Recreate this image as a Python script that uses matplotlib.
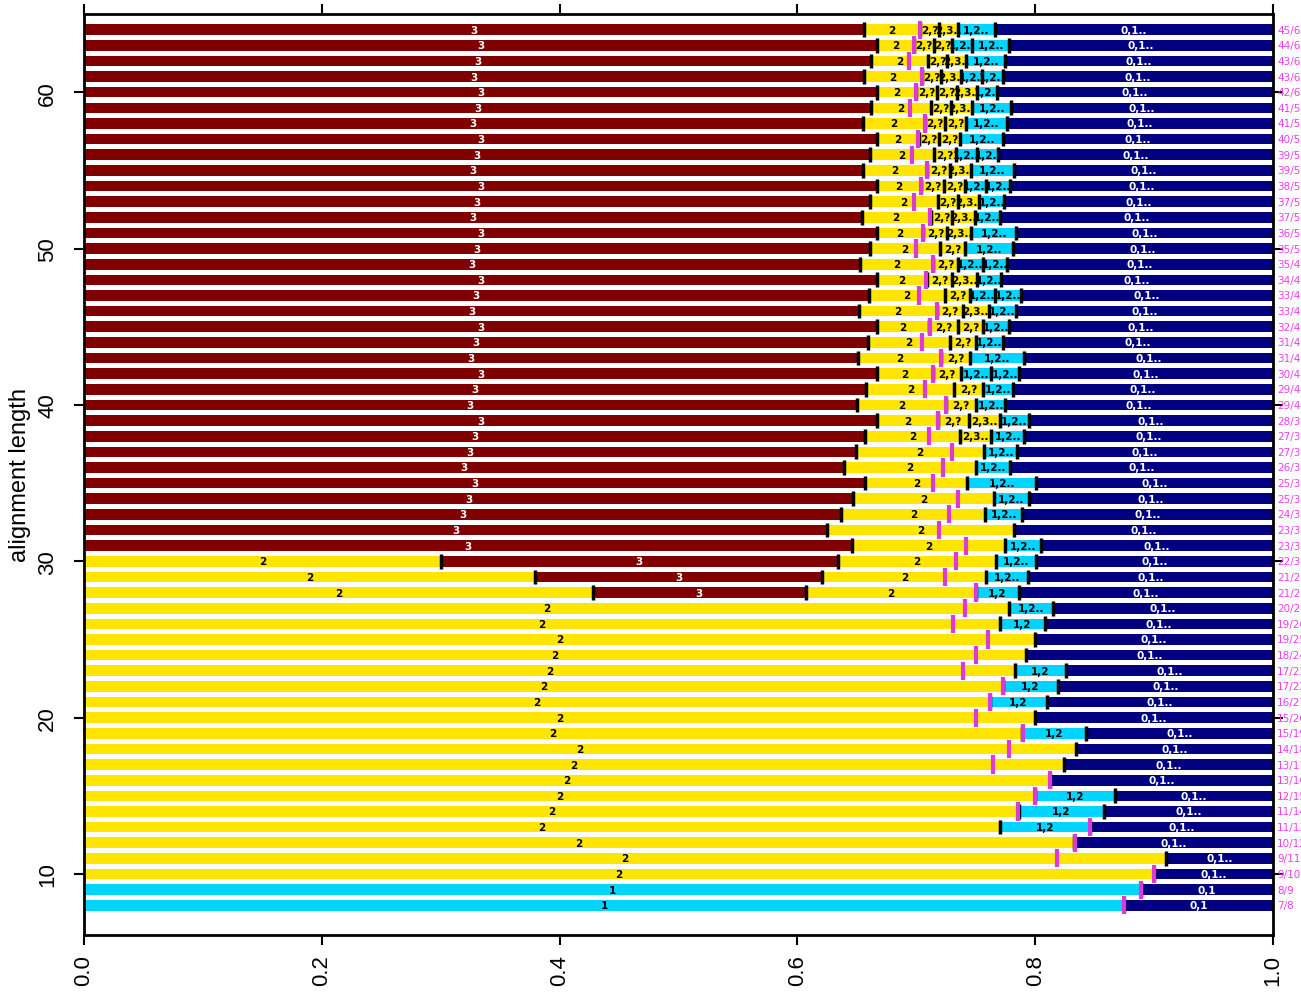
import matplotlib
matplotlib.use("Agg")
import matplotlib.pyplot as plt

# alignment length (rows, top to bottom) and number of identical positions
lengths = list(range(64, 7, -1))
n_ident = [45, 44, 43, 43, 42, 41, 41, 40, 39, 39, 38, 37, 37, 36, 35, 35,
           34, 33, 33, 32, 31, 31, 30, 29, 29, 28, 27, 27, 26, 25, 25, 24,
           23, 23, 22, 21, 21, 20, 19, 19, 18, 17, 17, 16, 15, 15, 14, 13,
           13, 12, 11, 11, 10, 9, 9, 8, 7]

# segment labels per row (left to right)
seg_labels = [
    ['3', '2', '2,?', '2,3..', '1,2..', '0,1..'],              # 64
    ['3', '2', '2,?', '2,?', '1,2..', '1,2..', '0,1..'],       # 63
    ['3', '2', '2,?', '2,3..', '1,2..', '0,1..'],              # 62
    ['3', '2', '2,?', '2,3..', '1,2..', '1,2..', '0,1..'],     # 61
    ['3', '2', '2,?', '2,?', '2,3..', '1,2..', '0,1..'],       # 60
    ['3', '2', '2,?', '2,3..', '1,2..', '0,1..'],              # 59
    ['3', '2', '2,?', '2,?', '1,2..', '0,1..'],                # 58
    ['3', '2', '2,?', '2,?', '1,2..', '0,1..'],                # 57
    ['3', '2', '2,?', '1,2..', '1,2..', '0,1..'],              # 56
    ['3', '2', '2,?', '2,3..', '1,2..', '0,1..'],              # 55
    ['3', '2', '2,?', '2,?', '1,2..', '1,2..', '0,1..'],       # 54
    ['3', '2', '2,?', '2,3..', '1,2..', '0,1..'],              # 53
    ['3', '2', '2,?', '2,3..', '1,2..', '0,1..'],              # 52
    ['3', '2', '2,?', '2,3..', '1,2..', '0,1..'],              # 51
    ['3', '2', '2,?', '1,2..', '0,1..'],                       # 50
    ['3', '2', '2,?', '1,2..', '1,2..', '0,1..'],              # 49
    ['3', '2', '2,?', '2,3..', '1,2..', '0,1..'],              # 48
    ['3', '2', '2,?', '1,2..', '1,2..', '0,1..'],              # 47
    ['3', '2', '2,?', '2,3..', '1,2..', '0,1..'],              # 46
    ['3', '2', '2,?', '2,?', '1,2..', '0,1..'],                # 45
    ['3', '2', '2,?', '1,2..', '0,1..'],                       # 44
    ['3', '2', '2,?', '1,2..', '0,1..'],                       # 43
    ['3', '2', '2,?', '1,2..', '1,2..', '0,1..'],              # 42
    ['3', '2', '2,?', '1,2..', '0,1..'],                       # 41
    ['3', '2', '2,?', '1,2..', '0,1..'],                       # 40
    ['3', '2', '2,?', '2,3..', '1,2..', '0,1..'],              # 39
    ['3', '2', '2,3..', '1,2..', '0,1..'],                     # 38
    ['3', '2', '1,2..', '0,1..'],                              # 37
    ['3', '2', '1,2..', '0,1..'],                              # 36
    ['3', '2', '1,2..', '0,1..'],                              # 35
    ['3', '2', '1,2..', '0,1..'],                              # 34
    ['3', '2', '1,2..', '0,1..'],                              # 33
    ['3', '2', '0,1..'],                                       # 32
    ['3', '2', '1,2..', '0,1..'],                              # 31
    ['2', '3', '2', '1,2..', '0,1..'],                         # 30
    ['2', '3', '2', '1,2..', '0,1..'],                         # 29
    ['2', '3', '2', '1,2', '0,1..'],                           # 28
    ['2', '1,2..', '0,1..'],                                   # 27
    ['2', '1,2', '0,1..'],                                     # 26
    ['2', '0,1..'],                                            # 25
    ['2', '0,1..'],                                            # 24
    ['2', '1,2', '0,1..'],                                     # 23
    ['2', '1,2', '0,1..'],                                     # 22
    ['2', '1,2', '0,1..'],                                     # 21
    ['2', '0,1..'],                                            # 20
    ['2', '1,2', '0,1..'],                                     # 19
    ['2', '0,1..'],                                            # 18
    ['2', '0,1..'],                                            # 17
    ['2', '0,1..'],                                            # 16
    ['2', '1,2', '0,1..'],                                     # 15
    ['2', '1,2', '0,1..'],                                     # 14
    ['2', '1,2', '0,1..'],                                     # 13
    ['2', '0,1..'],                                            # 12
    ['2', '0,1..'],                                            # 11
    ['2', '0,1..'],                                            # 10
    ['1', '0,1'],                                              # 9
    ['1', '0,1'],                                              # 8
]

# cumulative segment boundaries (fraction)
seg_edges = [
    [0.656, 0.703, 0.719, 0.735, 0.766],
    [0.667, 0.698, 0.715, 0.730, 0.747, 0.778],
    [0.662, 0.710, 0.726, 0.742, 0.775],
    [0.656, 0.705, 0.721, 0.738, 0.755, 0.773],
    [0.667, 0.700, 0.717, 0.734, 0.751, 0.768],
    [0.662, 0.712, 0.729, 0.747, 0.780],
    [0.655, 0.707, 0.724, 0.742, 0.776],
    [0.667, 0.702, 0.719, 0.737, 0.773],
    [0.661, 0.715, 0.733, 0.751, 0.769],
    [0.655, 0.709, 0.728, 0.746, 0.782],
    [0.667, 0.704, 0.723, 0.741, 0.759, 0.779],
    [0.661, 0.718, 0.735, 0.753, 0.774],
    [0.654, 0.712, 0.730, 0.749, 0.770],
    [0.667, 0.706, 0.726, 0.746, 0.784],
    [0.661, 0.720, 0.741, 0.781],
    [0.653, 0.714, 0.735, 0.756, 0.776],
    [0.667, 0.709, 0.730, 0.751, 0.771],
    [0.660, 0.724, 0.745, 0.766, 0.788],
    [0.652, 0.717, 0.739, 0.761, 0.784],
    [0.667, 0.711, 0.735, 0.756, 0.778],
    [0.659, 0.728, 0.750, 0.773],
    [0.651, 0.721, 0.745, 0.791],
    [0.667, 0.714, 0.738, 0.763, 0.786],
    [0.658, 0.732, 0.756, 0.781],
    [0.650, 0.725, 0.750, 0.775],
    [0.667, 0.718, 0.744, 0.770, 0.795],
    [0.657, 0.737, 0.763, 0.791],
    [0.649, 0.757, 0.785],
    [0.639, 0.750, 0.779],
    [0.657, 0.743, 0.801],
    [0.647, 0.765, 0.795],
    [0.637, 0.758, 0.789],
    [0.625, 0.782],
    [0.646, 0.775, 0.805],
    [0.300, 0.634, 0.767, 0.801],
    [0.379, 0.621, 0.759, 0.794],
    [0.428, 0.607, 0.750, 0.786],
    [0.778, 0.815],
    [0.770, 0.808],
    [0.800],
    [0.792],
    [0.783, 0.826],
    [0.773, 0.819],
    [0.762, 0.810],
    [0.800],
    [0.789, 0.843],
    [0.834],
    [0.824],
    [0.8125],
    [0.800, 0.867],
    [0.786, 0.858],
    [0.770, 0.846],
    [0.833],
    [0.910],
    [0.900],
    [0.889],
    [0.875],
]

seg_colors = {'3': '#800000', '2': '#FFE500', '2,?': '#FFE500', '2,3..': '#FFE500',
              '1': '#00D4FF', '1,2': '#00D4FF', '1,2..': '#00D4FF',
              '0,1': '#000080', '0,1..': '#000080'}
dark = {'#800000', '#000080'}
magenta = '#DA3ADA'

fig = plt.figure(figsize=(13.01, 9.95), dpi=100)
ax = fig.add_axes([84 / 1301, 59 / 995, 1189 / 1301, 921 / 995])

bar_h = 0.68
for L, n, labs, edges in zip(lengths, n_ident, seg_labels, seg_edges):
    lefts = [0.0] + edges
    rights = edges + [1.0]
    for lab, a, b in zip(labs, lefts, rights):
        col = seg_colors[lab]
        ax.barh(L, b - a, left=a, height=bar_h, color=col, linewidth=0)
        ax.text((a + b) / 2, L, lab, ha='center', va='center', fontsize=7.5,
                fontweight='bold', family='DejaVu Sans',
                color='white' if col in dark else 'black')
    ax.vlines(edges, L - 0.47, L + 0.47, color='black', linewidth=2.5, zorder=3)
    ax.vlines(n / L, L - 0.58, L + 0.58, color=magenta, linewidth=3, zorder=4)
    ax.text(1.0035, L, f'{n}/{L}', ha='left', va='center', fontsize=7.5,
            color='#EE3EEE', clip_on=False)

ax.set_xlim(0, 1)
ax.set_ylim(6.1, 65.0)
ax.set_xticks([0, 0.2, 0.4, 0.6, 0.8, 1.0])
ax.set_xticklabels(['0.0', '0.2', '0.4', '0.6', '0.8', '1.0'], rotation=90,
                   family='Liberation Sans', fontsize=16)
ax.set_yticks([10, 20, 30, 40, 50, 60])
ax.set_yticklabels(['10', '20', '30', '40', '50', '60'], rotation=90, va='center',
                   family='Liberation Sans', fontsize=16)
ax.tick_params(axis='both', direction='out', length=7.5, width=1.5,
               top=True, right=True, labeltop=False, labelright=False)
ax.tick_params(axis='x', pad=6)
ax.tick_params(axis='y', pad=11)
for s in ax.spines.values():
    s.set_linewidth(2)
ax.set_ylabel('alignment length', family='Liberation Sans', fontsize=17)
ax.yaxis.set_label_coords(-0.0445, 0.5)

fig.savefig('out.png', dpi=100)
